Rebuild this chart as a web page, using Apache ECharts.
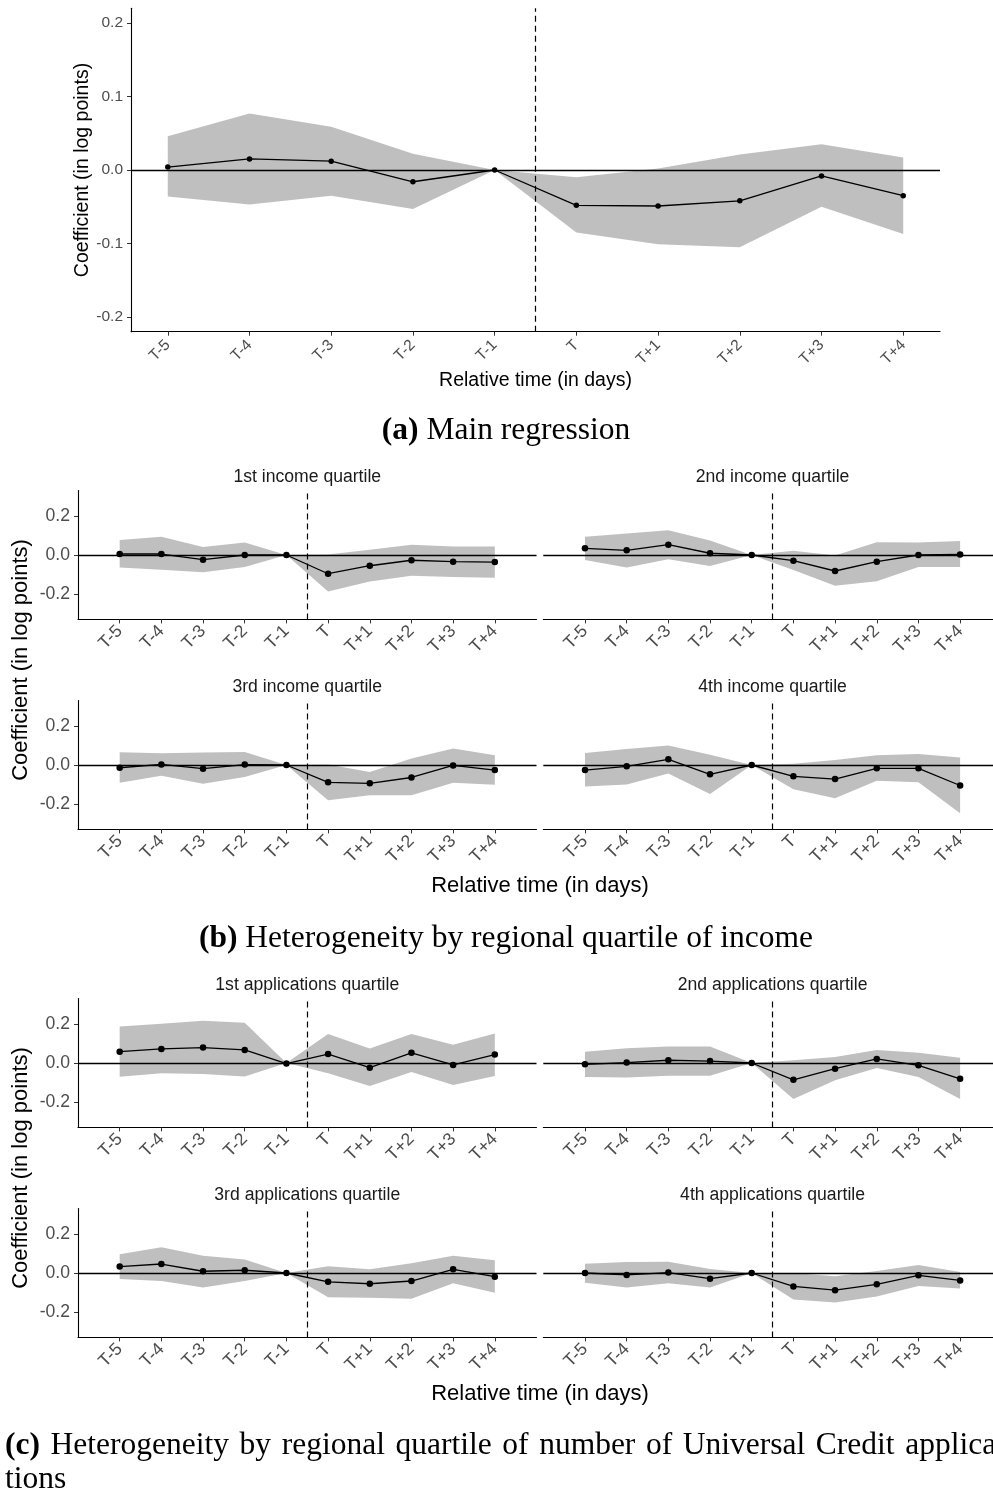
<!DOCTYPE html>
<html><head><meta charset="utf-8">
<script src="https://cdn.jsdelivr.net/npm/echarts@6/dist/echarts.min.js"></script>
<style>html,body{margin:0;padding:0;background:#fff}#c{width:993px;height:1494px}</style>
</head><body><div id="c"></div>
<script>
// ---------------- data ----------------
const relTime = [-5, -4, -3, -2, -1, 0, 1, 2, 3, 4];
const xTickLabels = ['T-5', 'T-4', 'T-3', 'T-2', 'T-1', 'T', 'T+1', 'T+2', 'T+3', 'T+4'];
const treatmentLine = -0.5;
const yTicksMain = [-0.2, -0.1, 0, 0.1, 0.2];
const yTicksFacet = [-0.2, 0, 0.2];

const mainCoef  = [0.004, 0.015, 0.012, -0.016, 0, -0.048, -0.049, -0.042, -0.008, -0.035];
const mainUpper = [0.046, 0.077, 0.059, 0.022, 0, -0.010, 0.002, 0.021, 0.035, 0.017];
const mainLower = [-0.036, -0.047, -0.035, -0.053, 0, -0.085, -0.101, -0.105, -0.050, -0.087];

const inc1Coef  = [0.005, 0.005, -0.024, 0.000, 0, -0.096, -0.055, -0.027, -0.034, -0.036];
const inc1Upper = [0.077, 0.094, 0.041, 0.064, 0, 0.002, 0.027, 0.052, 0.043, 0.043];
const inc1Lower = [-0.064, -0.076, -0.089, -0.062, 0, -0.187, -0.136, -0.106, -0.113, -0.117];

const inc2Coef  = [0.034, 0.024, 0.053, 0.009, 0, -0.029, -0.082, -0.034, 0.000, 0.003];
const inc2Upper = [0.094, 0.110, 0.127, 0.074, 0, 0.022, -0.002, 0.065, 0.064, 0.072];
const inc2Lower = [-0.026, -0.064, -0.022, -0.057, 0, -0.077, -0.158, -0.134, -0.062, -0.062];

const inc3Coef  = [-0.014, 0.003, -0.019, 0.002, 0, -0.089, -0.094, -0.064, -0.002, -0.026];
const inc3Upper = [0.065, 0.060, 0.064, 0.067, 0, 0.003, -0.036, 0.033, 0.084, 0.050];
const inc3Lower = [-0.091, -0.055, -0.096, -0.062, 0, -0.180, -0.155, -0.155, -0.091, -0.101];

const inc4Coef  = [-0.026, -0.007, 0.029, -0.048, 0, -0.058, -0.072, -0.017, -0.017, -0.105];
const inc4Upper = [0.062, 0.082, 0.100, 0.052, 0, 0.007, 0.026, 0.050, 0.057, 0.038];
const inc4Lower = [-0.110, -0.100, -0.043, -0.148, 0, -0.124, -0.170, -0.081, -0.089, -0.247];

const app1Coef  = [0.058, 0.072, 0.079, 0.067, -0.003, 0.046, -0.024, 0.052, -0.010, 0.043];
const app1Upper = [0.187, 0.201, 0.216, 0.206, 0, 0.148, 0.074, 0.149, 0.094, 0.151];
const app1Lower = [-0.070, -0.053, -0.057, -0.069, 0, -0.053, -0.118, -0.046, -0.113, -0.067];

const app2Coef  = [-0.007, 0.002, 0.014, 0.010, 0, -0.086, -0.029, 0.021, -0.012, -0.081];
const app2Upper = [0.058, 0.076, 0.084, 0.084, 0, 0.014, 0.031, 0.067, 0.053, 0.027];
const app2Lower = [-0.072, -0.074, -0.065, -0.065, 0, -0.185, -0.088, -0.026, -0.072, -0.185];

const app3Coef  = [0.033, 0.046, 0.009, 0.014, 0, -0.045, -0.055, -0.041, 0.019, -0.019];
const app3Upper = [0.096, 0.132, 0.089, 0.069, 0, 0.034, 0.019, 0.050, 0.088, 0.065];
const app3Lower = [-0.031, -0.041, -0.074, -0.041, 0, -0.124, -0.127, -0.132, -0.052, -0.101];

const app4Coef  = [0.000, -0.010, 0.002, -0.029, 0, -0.069, -0.088, -0.058, -0.012, -0.038];
const app4Upper = [0.048, 0.057, 0.058, 0.021, 0, 0.000, -0.017, 0.010, 0.041, 0.005];
const app4Lower = [-0.050, -0.074, -0.052, -0.074, 0, -0.136, -0.151, -0.120, -0.067, -0.079];

const facetTitles = ['1st income quartile', '2nd income quartile', '3rd income quartile', '4th income quartile',
  '1st applications quartile', '2nd applications quartile', '3rd applications quartile', '4th applications quartile'];

// ---------------- layout ----------------
const SANS = '"Liberation Sans", Arial, sans-serif';
const SERIF = '"Liberation Serif", "Times New Roman", serif';
const colL = 78, colR = 543.3, colW = 458.5, rowH = 128.8;
const rowTops = [490.6, 700.6, 998.6, 1208.6];

const panels = [
  { coef: mainCoef, lo: mainLower, hi: mainUpper, left: 131, top: 8.3, width: 809, height: 323.4,
    xMin: -5.45, xMax: 4.45, yMin: -0.22, yMax: 0.22, yTicks: yTicksMain, showY: true, fs: 15.5, sym: 5.5,
    lblPad: 10, lblMargin: 11 }
];
const facetData = [
  [inc1Coef, inc1Lower, inc1Upper], [inc2Coef, inc2Lower, inc2Upper],
  [inc3Coef, inc3Lower, inc3Upper], [inc4Coef, inc4Lower, inc4Upper],
  [app1Coef, app1Lower, app1Upper], [app2Coef, app2Lower, app2Upper],
  [app3Coef, app3Lower, app3Upper], [app4Coef, app4Lower, app4Upper]
];
facetData.forEach((d, i) => {
  const row = Math.floor(i / 2), col = i % 2;
  panels.push({ coef: d[0], lo: d[1], hi: d[2], left: col ? colR : colL, top: rowTops[row], width: colW, height: rowH,
    xMin: -6, xMax: 5, yMin: -0.33, yMax: 0.33, yTicks: yTicksFacet, showY: col === 0, fs: 17.6, sym: 6.5,
    lblPad: 11, lblMargin: 9, title: facetTitles[i] });
});

const fmtY = v => (Math.abs(v) < 1e-9 ? 0 : v).toFixed(1);

const grid = [], xAxis = [], yAxis = [], series = [], graphic = [];
panels.forEach((p, i) => {
  grid.push({ left: p.left, top: p.top, width: p.width, height: p.height, containLabel: false, outerBoundsMode: 'none' });
  xAxis.push({
    gridIndex: i, type: 'value', min: p.xMin, max: p.xMax,
    axisLine: { show: true, onZero: false, lineStyle: { color: '#000', width: 1.1 } },
    axisTick: { show: true, customValues: relTime, length: 4, lineStyle: { color: '#333', width: 1 } },
    axisLabel: { show: true, customValues: relTime, formatter: v => xTickLabels[relTime.indexOf(v)],
      rotate: 45, color: '#4d4d4d', fontSize: p.fs, fontFamily: SANS, margin: p.lblMargin,
      padding: [p.lblPad, 0, 0, 0] },
    splitLine: { show: false }
  });
  yAxis.push({
    gridIndex: i, type: 'value', min: p.yMin, max: p.yMax,
    axisLine: { show: p.showY, onZero: false, lineStyle: { color: '#000', width: 1.1 } },
    axisTick: { show: p.showY, customValues: p.yTicks, length: 4, lineStyle: { color: '#333', width: 1 } },
    axisLabel: { show: p.showY, customValues: p.yTicks, formatter: fmtY, color: '#4d4d4d', fontSize: p.fs, fontFamily: SANS, margin: 8 },
    splitLine: { show: false }
  });
  const pts = relTime.map((x, k) => [x, p.coef[k]]);
  series.push({
    type: 'custom', xAxisIndex: i, yAxisIndex: i, z: 1, silent: true,
    data: relTime.map((x, k) => [x, p.lo[k], p.hi[k]]),
    encode: { x: 0, y: [1, 2] },
    renderItem: (params, api) => {
      if (params.dataIndex !== 0) return null;
      const poly = [];
      for (let k = 0; k < relTime.length; k++) poly.push(api.coord([relTime[k], p.hi[k]]));
      for (let k = relTime.length - 1; k >= 0; k--) poly.push(api.coord([relTime[k], p.lo[k]]));
      return { type: 'polygon', shape: { points: poly }, style: { fill: '#bfbfbf', stroke: null } };
    }
  });
  series.push({
    type: 'line', xAxisIndex: i, yAxisIndex: i, z: 2, silent: true, data: pts, symbol: 'none',
    lineStyle: { opacity: 0 },
    markLine: {
      silent: true, symbol: ['none', 'none'], label: { show: false }, animation: false,
      emphasis: { disabled: true },
      data: [
        { yAxis: 0, lineStyle: { type: 'solid', color: '#000', width: 1.3 } },
        { xAxis: treatmentLine, lineStyle: { type: [6, 4], color: '#000', width: 1.2 } }
      ]
    }
  });
  series.push({
    type: 'line', xAxisIndex: i, yAxisIndex: i, z: 3, silent: true, data: pts,
    symbol: 'circle', symbolSize: p.sym, showAllSymbol: true,
    itemStyle: { color: '#000' }, lineStyle: { color: '#000', width: 1.3 },
    emphasis: { disabled: true }
  });
  if (p.title) {
    graphic.push({ type: 'text', x: p.left + p.width / 2, y: p.top - 13.6, silent: true,
      style: { text: p.title, fontSize: 17.6, fontFamily: SANS, fill: '#1a1a1a',
        textAlign: 'center', align: 'center', textVerticalAlign: 'middle', verticalAlign: 'middle' } });
  }
});

function txt(x, y, text, size, rot, family, extra) {
  return Object.assign({ type: 'text', x: x, y: y, rotation: rot || 0, silent: true,
    style: Object.assign({ text: text, fontSize: size, fontFamily: family || SANS, fill: '#000',
      textAlign: 'center', align: 'center', textVerticalAlign: 'middle', verticalAlign: 'middle' }, extra || {}) });
}
// axis titles
graphic.push(txt(82.5, 170, 'Coefficient (in log points)', 19.5, Math.PI / 2));
graphic.push(txt(535.5, 381, 'Relative time (in days)', 19.5, 0));
graphic.push(txt(21, 660, 'Coefficient (in log points)', 22, Math.PI / 2));
graphic.push(txt(540, 886, 'Relative time (in days)', 22, 0));
graphic.push(txt(21, 1168, 'Coefficient (in log points)', 22, Math.PI / 2));
graphic.push(txt(540, 1394, 'Relative time (in days)', 22, 0));
// captions
const rich = { b: { fontWeight: 'bold', fontSize: 31.5, fontFamily: SERIF, fill: '#000', color: '#000' },
               n: { fontSize: 31.5, fontFamily: SERIF, fill: '#000', color: '#000' },
               s: { fontSize: 31.5, fontFamily: SERIF, width: 10.6 } };
graphic.push(txt(506, 431, '{b|(a)}{n| Main regression}', 31.5, 0, SERIF, { rich: rich }));
graphic.push(txt(506, 939, '{b|(b)}{n| Heterogeneity by regional quartile of income}', 31.5, 0, SERIF, { rich: rich }));
const captionC = '(c) Heterogeneity by regional quartile of number of Universal Credit applica';
const captionCWords = captionC.split(' ');
const captionCRich = captionCWords.map((w, k) => (k === 0 ? '{b|' + w + '}' : '{n|' + w + '}')).join('{s| }');
graphic.push(txt(5, 1446, captionCRich, 31.5, 0, SERIF, { rich: rich, textAlign: 'left', align: 'left' }));
graphic.push(txt(5, 1480, 'tions', 31.5, 0, SERIF, { textAlign: 'left', align: 'left' }));

const chart = echarts.init(document.getElementById('c'), null, { renderer: 'canvas' });
chart.setOption({
  animation: false, backgroundColor: '#fff',
  grid: grid, xAxis: xAxis, yAxis: yAxis, series: series, graphic: graphic
});
</script></body></html>
